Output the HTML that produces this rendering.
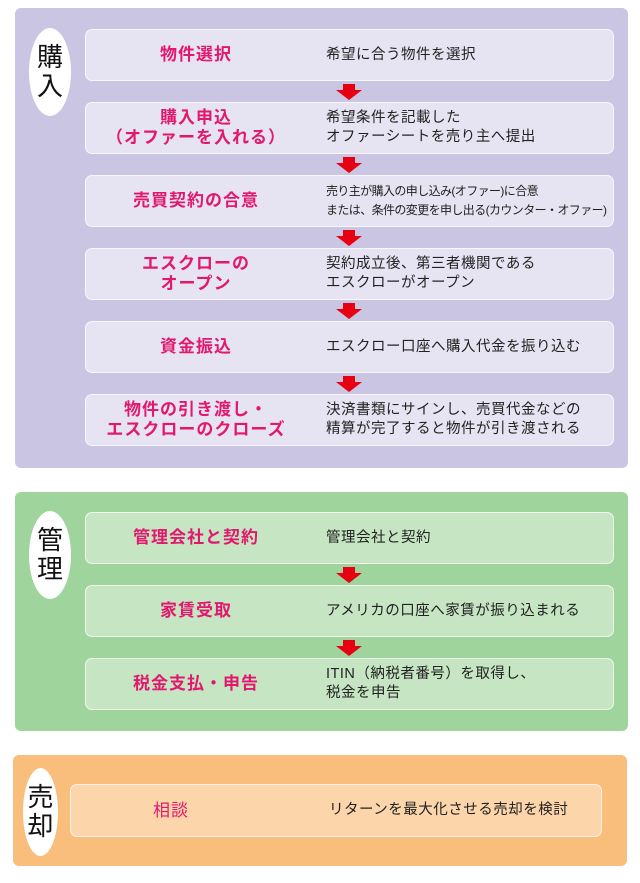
<!DOCTYPE html>
<html><head><meta charset="utf-8"><style>
*{margin:0;padding:0;box-sizing:border-box}
body{width:640px;height:883px;background:#fff;position:relative;font-family:"Liberation Sans","Noto Sans CJK JP",sans-serif;overflow:hidden}
.panel{position:absolute;border-radius:6px}
.box{position:absolute;border-radius:7px;border:1px solid rgba(255,255,255,.7)}
.l{position:absolute;top:0;bottom:0;display:flex;align-items:center;justify-content:center;text-align:center;color:#e2186f;font-size:17px;font-weight:bold;line-height:20px;letter-spacing:1px}
.r{position:absolute;top:0;bottom:0;display:flex;align-items:center;color:#222;font-size:14.5px;line-height:19px;letter-spacing:.5px;white-space:nowrap}
.oval{position:absolute;background:#fff;border-radius:50%;display:flex;align-items:center;justify-content:center;font-size:26px;line-height:29px;color:#111;text-align:center}
</style></head><body>
<div class="panel" style="left:15px;top:8px;width:613px;height:460px;background:#c9c5e2"></div>
<div class="panel" style="left:15px;top:492px;width:613px;height:239px;background:#9fd49d"></div>
<div class="panel" style="left:13px;top:755px;width:614px;height:111px;background:#f9bd7c"></div>

<div class="oval" style="left:29px;top:28px;width:42px;height:88px">購<br>入</div>
<div class="oval" style="left:29px;top:511px;width:42px;height:88px">管<br>理</div>
<div class="oval" style="left:23px;top:768px;width:35px;height:88px">売<br>却</div>

<div class="box" style="left:85px;top:29px;width:529px;height:52px;background:#e6e4f2"><div class="l" style="left:0;width:220px">物件選択</div><div class="r" style="left:240px">希望に合う物件を選択</div></div>
<div class="box" style="left:85px;top:102px;width:529px;height:52px;background:#e6e4f2"><div class="l" style="left:0;width:220px">購入申込<br>（オファーを入れる）</div><div class="r" style="left:240px">希望条件を記載した<br>オファーシートを売り主へ提出</div></div>
<div class="box" style="left:85px;top:175px;width:529px;height:52px;background:#e6e4f2"><div class="l" style="left:0;width:220px">売買契約の合意</div><div class="r" style="left:240px;font-size:12px;letter-spacing:-.6px">売り主が購入の申し込み(オファー)に合意<br>または、条件の変更を申し出る(カウンター・オファー)</div></div>
<div class="box" style="left:85px;top:248px;width:529px;height:52px;background:#e6e4f2"><div class="l" style="left:0;width:220px">エスクローの<br>オープン</div><div class="r" style="left:240px">契約成立後、第三者機関である<br>エスクローがオープン</div></div>
<div class="box" style="left:85px;top:321px;width:529px;height:52px;background:#e6e4f2"><div class="l" style="left:0;width:220px">資金振込</div><div class="r" style="left:240px">エスクロー口座へ購入代金を振り込む</div></div>
<div class="box" style="left:85px;top:394px;width:529px;height:52px;background:#e6e4f2"><div class="l" style="left:0;width:220px">物件の引き渡し・<br>エスクローのクローズ</div><div class="r" style="left:240px">決済書類にサインし、売買代金などの<br>精算が完了すると物件が引き渡される</div></div>

<div class="box" style="left:85px;top:512px;width:529px;height:52px;background:#c6e6c3"><div class="l" style="left:0;width:220px">管理会社と契約</div><div class="r" style="left:240px">管理会社と契約</div></div>
<div class="box" style="left:85px;top:585px;width:529px;height:52px;background:#c6e6c3"><div class="l" style="left:0;width:220px">家賃受取</div><div class="r" style="left:240px">アメリカの口座へ家賃が振り込まれる</div></div>
<div class="box" style="left:85px;top:658px;width:529px;height:52px;background:#c6e6c3"><div class="l" style="left:0;width:220px">税金支払・申告</div><div class="r" style="left:240px">ITIN（納税者番号）を取得し、<br>税金を申告</div></div>

<div class="box" style="left:70px;top:784px;width:532px;height:53px;background:#fcd5aa"><div class="l" style="left:0;width:200px;font-weight:normal">相談</div><div class="r" style="left:258px">リターンを最大化させる売却を検討</div></div>

<svg width="640" height="883" style="position:absolute;left:0;top:0">
<g fill="#e60012">
<path id="a" d="M343 84h12v6h7l-13 10l-13-10h7z"/>
<use href="#a" y="73"/><use href="#a" y="146"/><use href="#a" y="219"/><use href="#a" y="292"/>
<use href="#a" y="483"/><use href="#a" y="556"/>
</g></svg>
</body></html>
